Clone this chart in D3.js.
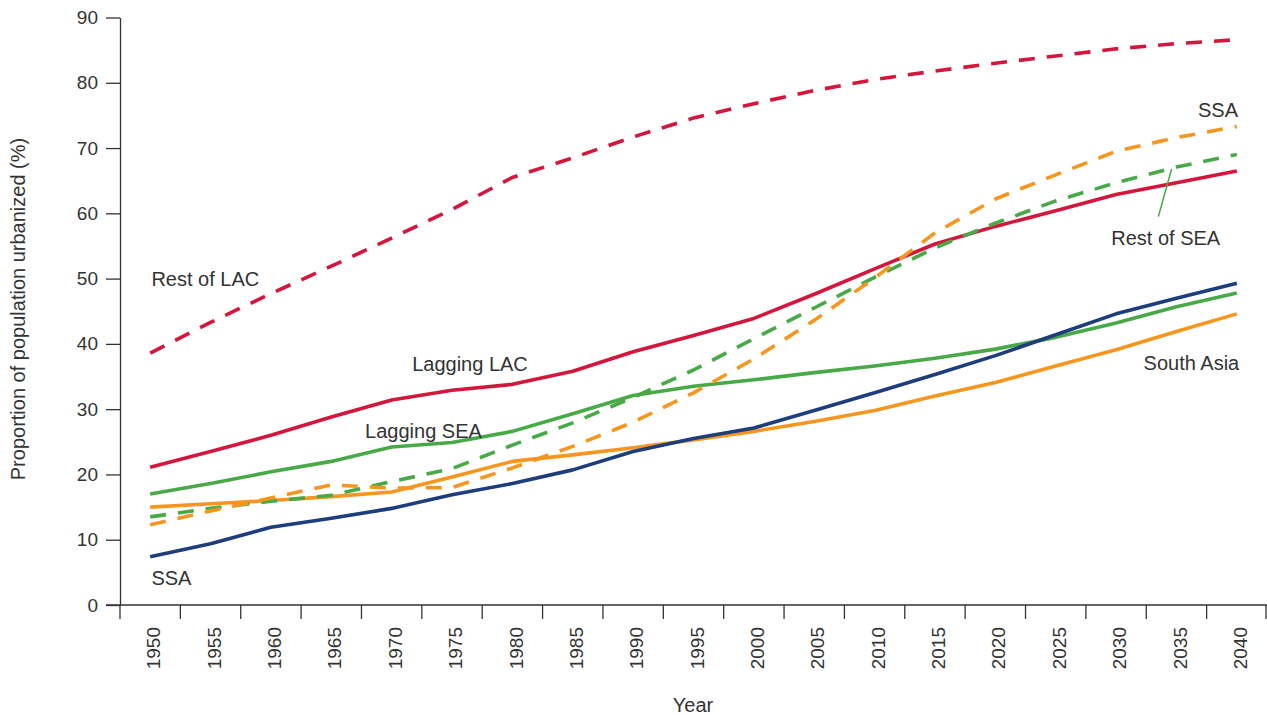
<!DOCTYPE html>
<html>
<head>
<meta charset="utf-8">
<script src="https://cdn.jsdelivr.net/npm/d3@7"></script>
<style>
  html, body { margin: 0; padding: 0; background: #fff; }
  svg { display: block; }
  text { font-family: "Liberation Sans", Arial, sans-serif; fill: #333; }
</style>
</head>
<body>
<svg id="chart" width="1267" height="715"></svg>
<script>
// Years on the horizontal axis
const years = [1950, 1955, 1960, 1965, 1970, 1975, 1980, 1985, 1990, 1995,
               2000, 2005, 2010, 2015, 2020, 2025, 2030, 2035, 2040];

// Y axis ticks
const yTicks = [0, 10, 20, 30, 40, 50, 60, 70, 80, 90];

// Share of population living in urban areas (%), by region
const restOfLAC   = [38.6, 43.3, 47.7, 51.9, 56.2, 60.6, 65.5, 68.5, 71.7, 74.6,
                     76.8, 78.8, 80.5, 81.8, 83.0, 84.1, 85.2, 86.0, 86.6];
const laggingLAC  = [21.1, 23.5, 26.0, 28.8, 31.4, 32.9, 33.8, 35.8, 38.8, 41.3,
                     43.9, 47.6, 51.5, 55.3, 58.0, 60.4, 62.9, 64.7, 66.5];
const laggingSEA  = [17.0, 18.6, 20.4, 22.0, 24.2, 24.9, 26.6, 29.3, 32.1, 33.5,
                     34.5, 35.6, 36.6, 37.8, 39.2, 41.0, 43.2, 45.7, 47.8];
const restOfSEA   = [13.5, 14.8, 15.9, 16.8, 18.9, 20.9, 24.5, 27.9, 31.8, 36.0,
                     40.8, 45.5, 50.2, 54.7, 58.5, 61.9, 64.7, 67.1, 69.0];
const ssaSolid    = [7.4, 9.4, 11.9, 13.3, 14.8, 16.9, 18.6, 20.7, 23.5, 25.5,
                     27.1, 29.8, 32.5, 35.3, 38.2, 41.4, 44.6, 47.0, 49.3];
const ssaDashed   = [12.3, 14.4, 16.4, 18.4, 17.9, 18.0, 21.0, 24.3, 28.0, 32.5,
                     37.7, 43.6, 50.1, 57.0, 62.2, 65.9, 69.5, 71.6, 73.3];
const southAsia   = [15.0, 15.5, 16.0, 16.6, 17.3, 19.6, 22.0, 23.0, 24.1, 25.3,
                     26.6, 28.1, 29.8, 32.0, 34.1, 36.6, 39.1, 41.9, 44.6];

const series = [
  { name: "Lagging LAC",  values: laggingLAC, color: "#d4163c", dashed: false },
  { name: "Lagging SEA",  values: laggingSEA, color: "#48a947", dashed: false },
  { name: "South Asia",   values: southAsia,  color: "#f7961f", dashed: false },
  { name: "SSA",          values: ssaSolid,   color: "#1d3d7c", dashed: false },
  { name: "Rest of LAC",  values: restOfLAC,  color: "#d4163c", dashed: true },
  { name: "Rest of SEA",  values: restOfSEA,  color: "#48a947", dashed: true },
  { name: "SSA",          values: ssaDashed,  color: "#f7961f", dashed: true }
];

// Line labels placed in data space (year, value)
const labels = [
  { text: "Rest of LAC", year: 1950.1, value: 48.9, anchor: "start" },
  { text: "Lagging LAC", year: 1971.7, value: 35.8, anchor: "start" },
  { text: "Lagging SEA", year: 1967.8, value: 25.6, anchor: "start" },
  { text: "SSA",         year: 1950.1, value: 3.1,  anchor: "start" },
  { text: "SSA",         year: 2040.1, value: 74.8, anchor: "end" },
  { text: "Rest of SEA", year: 2029.6, value: 55.2, anchor: "start" },
  { text: "South Asia",  year: 2040.2, value: 36.0, anchor: "end" }
];
// Leader from the "Rest of SEA" label to its line
const leader = [{ year: 2033.5, value: 59.5 }, { year: 2034.6, value: 66.8 }];

const svg = d3.select("#chart");
const plotLeft = 120, plotRight = 1267, plotTop = 17.5, plotBottom = 605;

const x = d3.scaleBand().domain(years).range([plotLeft, plotRight]).padding(0);
const xc = d => x(d) + x.bandwidth() / 2;
// Continuous year scale through the band centres, for annotations
const xl = d3.scaleLinear().domain([1950, 2040]).range([xc(1950), xc(2040)]);
const y = d3.scaleLinear().domain([0, 90]).range([plotBottom, plotTop]);

// Y axis
const yAxis = svg.append("g")
  .attr("transform", `translate(${plotLeft},0)`)
  .call(d3.axisLeft(y).tickValues(yTicks).tickSize(14).tickPadding(8).tickSizeOuter(0));
yAxis.select(".domain").attr("stroke", "#333").attr("stroke-width", 1.3);
yAxis.selectAll(".tick line").attr("stroke", "#333").attr("stroke-width", 1.3);
yAxis.selectAll(".tick text")
  .style("font-family", '"Liberation Sans", Arial, sans-serif')
  .style("font-size", "19px").attr("fill", "#333");

// X axis: baseline, band-boundary ticks and rotated year labels
const xg = svg.append("g");
xg.append("line")
  .attr("x1", plotLeft - 14).attr("x2", plotRight).attr("y1", plotBottom).attr("y2", plotBottom)
  .attr("stroke", "#333").attr("stroke-width", 1.3);
const edges = years.map(d => x(d)).concat([x(years[years.length - 1]) + x.bandwidth() - 1]);
xg.selectAll("line.tick").data(edges).enter().append("line")
  .attr("class", "tick")
  .attr("x1", d => d).attr("x2", d => d)
  .attr("y1", plotBottom).attr("y2", plotBottom + 14)
  .attr("stroke", "#333").attr("stroke-width", 1.3);
xg.selectAll("text").data(years).enter().append("text")
  .attr("transform", d => `translate(${xc(d) + 3.5},${plotBottom + 22}) rotate(-90)`)
  .attr("text-anchor", "end")
  .attr("dy", "0.35em")
  .style("font-size", "19px")
  .text(d => d);

// Axis titles
svg.append("text")
  .attr("x", 693).attr("y", 712)
  .attr("text-anchor", "middle")
  .style("font-size", "20px")
  .text("Year");
svg.append("text")
  .attr("transform", "translate(25,309) rotate(-90)")
  .attr("text-anchor", "middle")
  .style("font-size", "20px")
  .text("Proportion of population urbanized (%)");

// Lines
const line = d3.line()
  .x((d, i) => xc(years[i]))
  .y(d => y(d));

svg.append("g").selectAll("path").data(series).enter().append("path")
  .attr("d", d => line(d.values))
  .attr("fill", "none")
  .attr("stroke", d => d.color)
  .attr("stroke-width", 3.6)
  .attr("stroke-linejoin", "round")
  .attr("stroke-dasharray", d => d.dashed ? "16,12" : null);

// Leader line
svg.append("line")
  .attr("x1", xl(leader[0].year)).attr("y1", y(leader[0].value))
  .attr("x2", xl(leader[1].year)).attr("y2", y(leader[1].value))
  .attr("stroke", "#48a947").attr("stroke-width", 1.5);

// Labels
svg.append("g").selectAll("text").data(labels).enter().append("text")
  .attr("x", d => xl(d.year))
  .attr("y", d => y(d.value))
  .attr("text-anchor", d => d.anchor)
  .style("font-size", "20px")
  .text(d => d.text);
</script>
</body>
</html>
